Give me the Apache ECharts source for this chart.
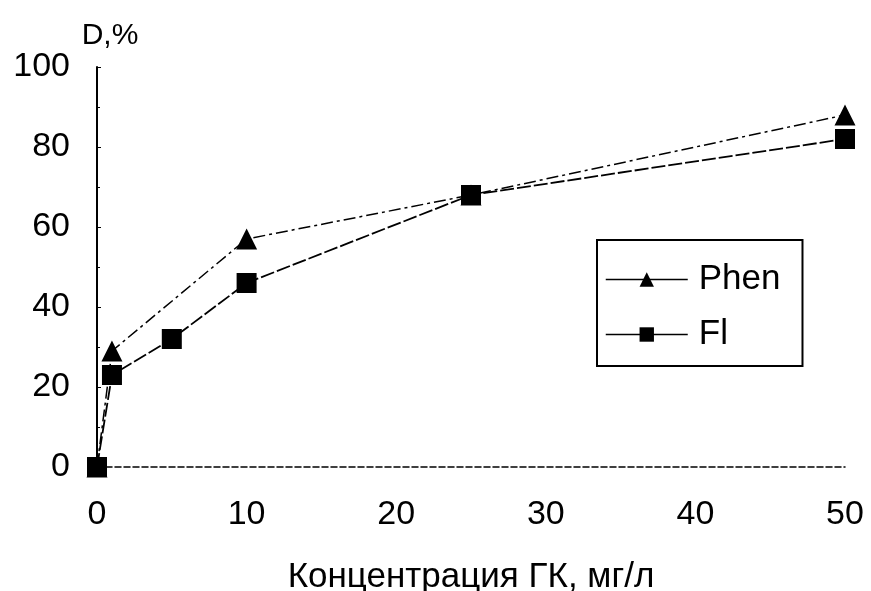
<!DOCTYPE html>
<html><head><meta charset="utf-8">
<script src="https://cdn.jsdelivr.net/npm/echarts@6/dist/echarts.min.js"></script>
<style>html,body{margin:0;padding:0;background:#fff}#c{width:871px;height:591px}</style>
</head><body><div id="c"></div>
<script>
var phenX = [0, 1, 10, 25, 50];
var phenY = [0, 29, 57, 68, 88];
var flX = [0, 1, 5, 10, 25, 50];
var flY = [0, 23, 32, 46, 68, 82];
var xTicks = [0, 10, 20, 30, 40, 50];
var yTicks = [0, 20, 40, 60, 80, 100];
var xName = 'Концентрация ГК, мг/л';
var yName = 'D,%';

function pairs(xs, ys){ return xs.map(function(x,i){return [x, ys[i]];}); }
var F = '"Liberation Sans", Arial, sans-serif';
var chart = echarts.init(document.getElementById('c'), null, {renderer:'canvas'});
chart.setOption({
  backgroundColor:'#fff',
  animation:false,
  textStyle:{fontFamily:F, color:'#000'},
  grid:{left:97, right:26, top:67, bottom:124, containLabel:false, outerBoundsMode:'none'},
  xAxis:{
    type:'value', min:xTicks[0], max:xTicks[xTicks.length-1], interval:10,
    name:xName, nameLocation:'middle', nameGap:93,
    nameTextStyle:{fontSize:35, color:'#000', fontFamily:F},
    axisLine:{show:true, onZero:false, lineStyle:{color:'#000', width:1.5, type:[6,3]}},
    axisTick:{show:false},
    axisLabel:{fontSize:34, color:'#000', margin:31, fontFamily:F},
    splitLine:{show:false}
  },
  yAxis:{
    type:'value', min:yTicks[0], max:yTicks[yTicks.length-1], interval:20,
    name:yName, nameLocation:'end', nameGap:16,
    nameTextStyle:{fontSize:30, color:'#000', fontFamily:F, padding:[0,0,0,26]},
    axisLine:{show:true, lineStyle:{color:'#000', width:2}},
    axisTick:{show:true, inside:true, length:4, lineStyle:{color:'#000'}},
    minorTick:{show:true, splitNumber:2, length:3, lineStyle:{color:'#000'}},
    axisLabel:{fontSize:34, color:'#000', margin:27, fontFamily:F},
    splitLine:{show:false}
  },
  legend:{
    orient:'vertical', left:597, top:240, width:200, height:123,
    padding:[22,22,14,8], itemGap:20,
    borderColor:'#000', borderWidth:2, backgroundColor:'#fff',
    itemWidth:82, itemHeight:18,
    lineStyle:{type:'solid', width:1.5, color:'#000'},
    textStyle:{fontSize:35, color:'#000', fontFamily:F, padding:[0,0,0,6]},
    data:['Phen','Fl']
  },
  series:[
    {name:'Phen', type:'line', data:pairs(phenX, phenY), symbol:'triangle', symbolSize:21,
     itemStyle:{color:'#000'}, lineStyle:{color:'#000', width:1.5, type:[12,4,3,4]}, z:3},
    {name:'Fl', type:'line', data:pairs(flX, flY), symbol:'rect', symbolSize:20,
     itemStyle:{color:'#000'}, lineStyle:{color:'#000', width:1.8, type:[14,3]}, z:4}
  ]
});
</script></body></html>
